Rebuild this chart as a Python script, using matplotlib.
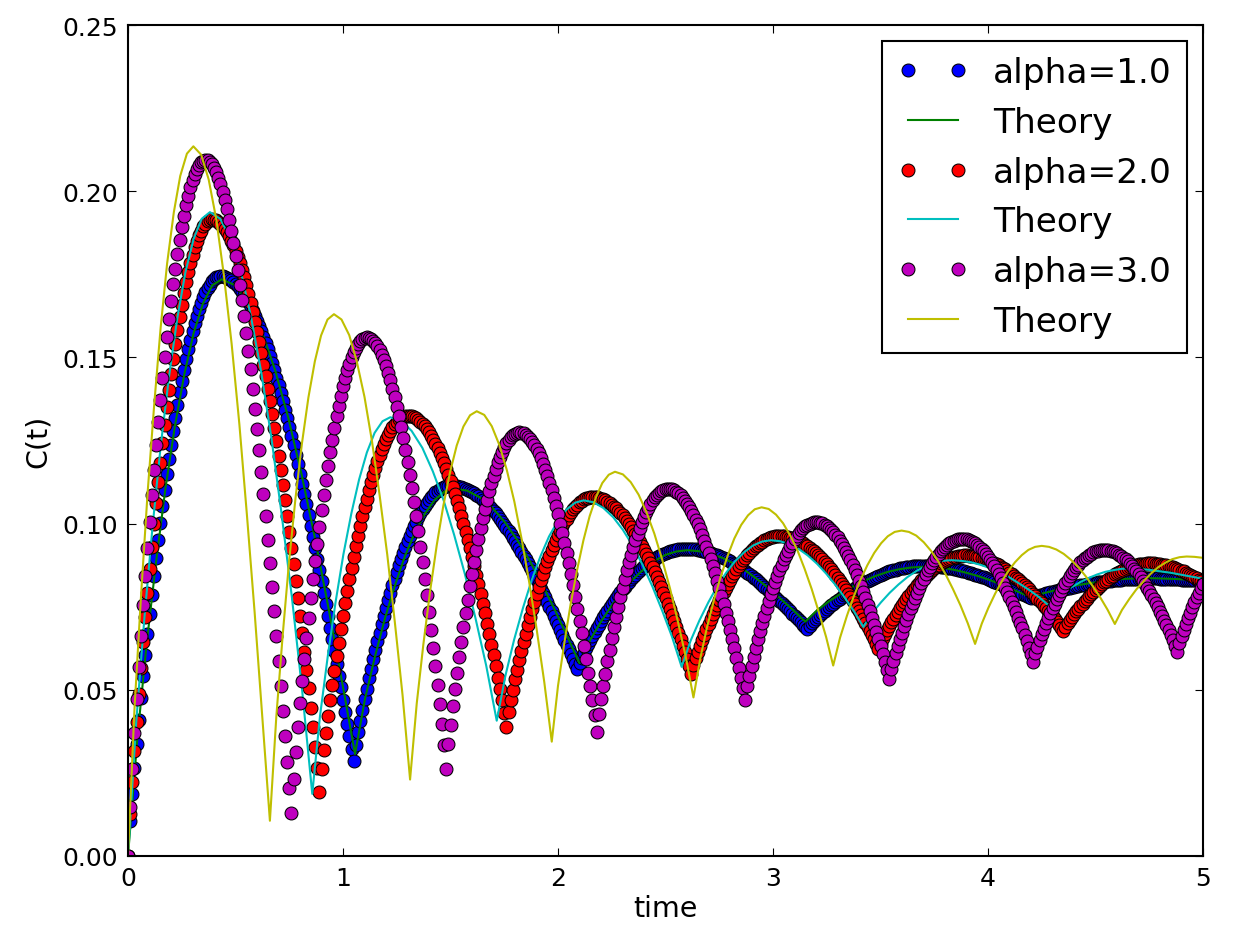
import numpy as np
import matplotlib
matplotlib.use("Agg")
import matplotlib.pyplot as plt
from matplotlib.lines import Line2D
from matplotlib.legend_handler import HandlerLine2D

# ---------------------------------------------------------------
# Simulated correlation C(t), sampled every 0.01 time units.
# Values are stored in units of 1e-4.
# ---------------------------------------------------------------
time = np.round(np.arange(501) * 0.01, 2)

c_alpha1 = [
    0, 105, 188, 264, 338, 408, 476, 541, 605, 667,
    727, 785, 841, 897, 950, 1002, 1052, 1101, 1148, 1193,
    1237, 1279, 1319, 1358, 1395, 1429, 1463, 1494, 1525, 1552,
    1579, 1603, 1626, 1646, 1665, 1681, 1696, 1709, 1719, 1729,
    1735, 1741, 1743, 1745, 1744, 1742, 1740, 1737, 1732, 1728,
    1721, 1714, 1707, 1698, 1688, 1678, 1666, 1653, 1640, 1626,
    1611, 1595, 1579, 1561, 1543, 1524, 1503, 1483, 1462, 1439,
    1416, 1393, 1368, 1343, 1318, 1291, 1263, 1236, 1207, 1178,
    1149, 1119, 1088, 1058, 1026, 994, 961, 928, 895, 861,
    827, 792, 758, 723, 687, 652, 616, 579, 543, 507,
    470, 434, 397, 360, 323, 286, 333, 372, 407, 440,
    473, 503, 534, 563, 592, 619, 646, 672, 697, 722,
    746, 769, 791, 814, 834, 855, 875, 894, 912, 930,
    947, 962, 978, 992, 1006, 1019, 1031, 1043, 1053, 1063,
    1072, 1080, 1087, 1094, 1099, 1104, 1108, 1111, 1113, 1114,
    1115, 1114, 1114, 1113, 1111, 1110, 1108, 1105, 1102, 1099,
    1095, 1091, 1087, 1082, 1077, 1071, 1065, 1059, 1053, 1046,
    1038, 1031, 1023, 1015, 1006, 997, 988, 978, 968, 958,
    948, 937, 926, 915, 904, 892, 880, 868, 856, 843,
    830, 818, 804, 791, 778, 764, 750, 736, 722, 708,
    694, 680, 665, 651, 636, 622, 607, 592, 578, 563,
    582, 597, 611, 625, 638, 650, 662, 674, 685, 696,
    707, 718, 728, 738, 748, 757, 767, 776, 785, 793,
    802, 810, 818, 825, 833, 840, 846, 853, 859, 865,
    871, 876, 882, 886, 891, 895, 899, 903, 907, 910,
    913, 915, 917, 919, 921, 922, 923, 924, 925, 925,
    925, 925, 924, 924, 923, 922, 920, 919, 918, 916,
    914, 912, 910, 907, 905, 902, 899, 896, 893, 889,
    886, 882, 878, 874, 870, 866, 861, 856, 852, 847,
    842, 837, 832, 826, 821, 815, 810, 804, 798, 792,
    786, 780, 774, 768, 762, 755, 749, 742, 736, 729,
    723, 716, 710, 703, 696, 690, 683, 693, 700, 707,
    713, 720, 726, 732, 737, 743, 749, 754, 759, 764,
    769, 774, 779, 784, 788, 793, 797, 801, 806, 810,
    813, 817, 821, 825, 828, 831, 834, 837, 840, 843,
    846, 849, 851, 853, 856, 858, 860, 861, 863, 865,
    866, 867, 869, 870, 870, 871, 872, 872, 873, 873,
    873, 873, 873, 873, 872, 872, 871, 871, 870, 869,
    868, 867, 866, 865, 864, 862, 861, 859, 858, 856,
    854, 852, 851, 849, 846, 844, 842, 840, 838, 835,
    833, 830, 828, 825, 822, 820, 817, 814, 811, 808,
    805, 802, 799, 796, 793, 790, 787, 784, 781, 778,
    775, 778, 780, 782, 784, 786, 788, 790, 792, 793,
    795, 797, 798, 800, 802, 803, 804, 806, 807, 809,
    810, 811, 813, 814, 815, 816, 817, 819, 820, 821,
    822, 823, 824, 825, 825, 826, 827, 828, 829, 829,
    830, 830, 831, 832, 832, 833, 833, 833, 834, 834,
    834, 834, 835, 835, 835, 835, 835, 835, 835, 835,
    834, 834, 834, 834, 833, 833, 833, 832, 832, 832,
    831, 831, 830, 830, 830, 829, 829, 829, 828, 828,
    828,
]

c_alpha2 = [
    0, 125, 223, 315, 404, 486, 567, 644, 720, 792,
    863, 931, 998, 1062, 1124, 1183, 1241, 1297, 1350, 1401,
    1450, 1496, 1540, 1582, 1622, 1659, 1694, 1726, 1756, 1783,
    1808, 1831, 1849, 1867, 1881, 1894, 1902, 1910, 1912, 1915,
    1914, 1912, 1908, 1902, 1895, 1886, 1876, 1865, 1851, 1837,
    1820, 1803, 1783, 1762, 1741, 1717, 1692, 1665, 1637, 1608,
    1577, 1546, 1513, 1478, 1443, 1406, 1368, 1329, 1288, 1247,
    1204, 1160, 1116, 1070, 1023, 975, 927, 877, 827, 776,
    723, 670, 615, 560, 505, 446, 388, 328, 265, 192,
    263, 320, 370, 421, 468, 514, 558, 601, 642, 683,
    721, 760, 796, 832, 866, 900, 932, 963, 993, 1022,
    1049, 1075, 1100, 1124, 1146, 1168, 1188, 1206, 1224, 1239,
    1255, 1267, 1280, 1290, 1299, 1307, 1314, 1318, 1322, 1324,
    1325, 1324, 1323, 1320, 1317, 1312, 1307, 1300, 1293, 1284,
    1275, 1264, 1253, 1240, 1227, 1213, 1198, 1182, 1165, 1147,
    1129, 1109, 1089, 1068, 1046, 1024, 1000, 976, 952, 926,
    900, 873, 846, 817, 789, 759, 730, 699, 668, 636,
    604, 571, 537, 503, 468, 431, 388, 432, 468, 499,
    531, 560, 589, 616, 643, 668, 694, 718, 742, 764,
    787, 808, 829, 848, 868, 886, 904, 920, 936, 951,
    966, 979, 992, 1004, 1015, 1025, 1035, 1043, 1051, 1057,
    1064, 1068, 1073, 1076, 1078, 1079, 1080, 1080, 1079, 1077,
    1075, 1073, 1070, 1066, 1062, 1057, 1051, 1046, 1039, 1032,
    1025, 1016, 1008, 999, 989, 979, 969, 958, 946, 934,
    922, 909, 896, 882, 868, 853, 839, 823, 808, 792,
    776, 759, 742, 725, 707, 689, 671, 652, 633, 613,
    593, 572, 548, 574, 595, 613, 632, 649, 666, 682,
    698, 713, 728, 742, 756, 769, 782, 795, 807, 819,
    830, 841, 852, 862, 872, 881, 889, 898, 905, 913,
    920, 926, 932, 937, 942, 946, 950, 954, 956, 959,
    960, 962, 962, 963, 963, 962, 961, 960, 958, 956,
    954, 951, 948, 945, 941, 937, 932, 928, 922, 917,
    911, 905, 899, 892, 885, 877, 870, 862, 854, 845,
    837, 828, 818, 809, 799, 789, 779, 768, 758, 747,
    736, 725, 713, 701, 690, 677, 665, 652, 639, 623,
    641, 655, 667, 680, 692, 703, 714, 725, 735, 745,
    755, 764, 773, 782, 791, 799, 807, 815, 822, 830,
    836, 843, 849, 855, 861, 866, 871, 875, 880, 884,
    887, 891, 894, 896, 899, 900, 902, 903, 904, 905,
    905, 904, 904, 903, 902, 900, 899, 897, 895, 893,
    890, 887, 884, 881, 878, 874, 870, 866, 862, 857,
    852, 848, 843, 837, 832, 826, 820, 814, 808, 802,
    795, 788, 781, 774, 767, 760, 753, 745, 737, 729,
    722, 713, 705, 696, 687, 677, 690, 700, 710, 719,
    727, 736, 744, 752, 759, 767, 774, 781, 787, 794,
    800, 806, 812, 818, 823, 828, 833, 838, 842, 847,
    850, 854, 858, 861, 864, 867, 869, 872, 873, 875,
    877, 878, 879, 879, 880, 880, 880, 880, 879, 878,
    878, 876, 875, 874, 872, 870, 868, 866, 864, 861,
    858, 856, 852, 849, 846, 842, 839, 835, 831, 826,
    822,
]

c_alpha3 = [
    0, 146, 262, 369, 472, 569, 663, 754, 841, 926,
    1006, 1086, 1161, 1235, 1306, 1373, 1438, 1500, 1561, 1616,
    1669, 1720, 1767, 1812, 1853, 1892, 1926, 1959, 1986, 2012,
    2033, 2052, 2067, 2078, 2087, 2092, 2095, 2093, 2089, 2081,
    2071, 2057, 2041, 2021, 1999, 1974, 1945, 1914, 1881, 1844,
    1805, 1764, 1719, 1673, 1624, 1573, 1519, 1464, 1406, 1346,
    1285, 1221, 1156, 1090, 1022, 952, 881, 809, 736, 663,
    588, 512, 436, 360, 283, 206, 129, 231, 312, 387,
    459, 527, 592, 656, 716, 776, 832, 887, 940, 990,
    1040, 1086, 1131, 1174, 1214, 1253, 1289, 1324, 1355, 1385,
    1413, 1438, 1461, 1481, 1500, 1515, 1529, 1540, 1548, 1555,
    1558, 1560, 1558, 1555, 1550, 1542, 1533, 1521, 1507, 1491,
    1473, 1453, 1431, 1406, 1380, 1352, 1323, 1291, 1258, 1222,
    1185, 1147, 1107, 1065, 1022, 977, 931, 883, 834, 784,
    733, 680, 626, 571, 514, 456, 396, 333, 262, 336,
    395, 450, 501, 551, 598, 644, 688, 730, 771, 811,
    849, 885, 920, 954, 986, 1017, 1045, 1072, 1098, 1122,
    1144, 1164, 1184, 1201, 1216, 1230, 1241, 1252, 1260, 1266,
    1271, 1273, 1275, 1274, 1272, 1268, 1262, 1255, 1246, 1236,
    1224, 1211, 1196, 1180, 1162, 1143, 1123, 1101, 1078, 1053,
    1028, 1000, 972, 943, 912, 881, 848, 814, 780, 744,
    708, 670, 632, 592, 552, 511, 468, 423, 372, 427,
    471, 511, 549, 586, 621, 655, 688, 719, 749, 778,
    806, 833, 859, 883, 907, 929, 950, 969, 987, 1004,
    1020, 1035, 1048, 1060, 1070, 1079, 1087, 1093, 1098, 1102,
    1104, 1105, 1104, 1103, 1100, 1096, 1091, 1085, 1078, 1069,
    1060, 1050, 1038, 1026, 1012, 998, 983, 966, 949, 931,
    912, 892, 871, 850, 828, 805, 781, 757, 732, 706,
    680, 653, 625, 597, 567, 537, 506, 470, 510, 542,
    572, 599, 626, 652, 677, 700, 723, 745, 767, 787,
    807, 825, 843, 860, 876, 892, 906, 919, 932, 943,
    954, 963, 972, 980, 986, 992, 996, 1000, 1003, 1004,
    1005, 1004, 1003, 1001, 997, 993, 988, 982, 975, 967,
    959, 949, 939, 928, 916, 903, 890, 875, 860, 845,
    828, 811, 793, 775, 756, 737, 717, 696, 675, 653,
    631, 608, 585, 560, 532, 563, 587, 610, 632, 653,
    672, 692, 710, 728, 745, 761, 777, 792, 807, 821,
    834, 847, 859, 870, 881, 891, 900, 909, 917, 924,
    930, 936, 941, 945, 949, 951, 953, 954, 955, 955,
    953, 951, 949, 945, 941, 936, 930, 924, 917, 909,
    900, 891, 881, 871, 859, 848, 836, 822, 807, 795,
    780, 765, 749, 733, 717, 700, 685, 665, 647, 627,
    608, 585, 610, 630, 649, 667, 684, 700, 715, 730,
    745, 759, 772, 785, 797, 809, 820, 831, 841, 851,
    859, 868, 876, 883, 890, 896, 901, 906, 910, 914,
    917, 919, 921, 921, 922, 922, 921, 919, 917, 914,
    911, 907, 903, 898, 892, 886, 879, 872, 864, 856,
    847, 838, 828, 818, 807, 796, 785, 773, 761, 748,
    735, 722, 708, 694, 679, 665, 649, 633, 615, 641,
    661, 680, 698, 715, 732, 748, 763, 778, 792, 805,
    818,
]

# ---------------------------------------------------------------
# Theoretical curves (time, C in units of 1e-4)
# ---------------------------------------------------------------
t_theory1 = [
    0, 0.044, 0.087, 0.131, 0.174, 0.218, 0.262, 0.305, 0.349, 0.392, 0.436,
    0.498, 0.560, 0.622, 0.684, 0.746, 0.808, 0.870, 0.932, 0.994, 1.056,
    1.102, 1.149, 1.195, 1.242, 1.288, 1.334, 1.381, 1.427, 1.474, 1.52,
    1.578, 1.636, 1.694, 1.752, 1.81, 1.868, 1.926, 1.984, 2.042, 2.10,
    2.15, 2.20, 2.25, 2.30, 2.35, 2.40, 2.45, 2.50, 2.55, 2.60,
    2.655, 2.71, 2.765, 2.82, 2.875, 2.93, 2.985, 3.04, 3.095, 3.15,
    3.205, 3.26, 3.315, 3.37, 3.425, 3.48, 3.535, 3.59, 3.645, 3.70,
    3.75, 3.80, 3.85, 3.90, 3.95, 4.00, 4.05, 4.10, 4.15, 4.20,
    4.255, 4.31, 4.365, 4.42, 4.475, 4.53, 4.585, 4.64, 4.695, 4.75,
    4.85, 4.95, 5.0,
]
c_theory1 = [
    0, 358, 640, 887, 1105, 1293, 1449, 1573, 1663, 1717, 1735,
    1717, 1665, 1579, 1462, 1317, 1146, 955, 748, 530, 307,
    472, 601, 715, 815, 902, 973, 1030, 1072, 1097, 1105,
    1099, 1079, 1048, 1005, 951, 889, 818, 742, 662, 580,
    650, 705, 754, 796, 833, 864, 888, 906, 916, 920,
    917, 909, 897, 879, 857, 831, 803, 771, 739, 705,
    739, 766, 789, 810, 828, 843, 855, 863, 868, 870,
    869, 866, 860, 852, 843, 832, 820, 806, 792, 778,
    790, 799, 808, 815, 821, 826, 831, 834, 835, 836,
    834, 831, 829,
]

t_theory2 = [
    0, 0.038, 0.076, 0.114, 0.152, 0.191, 0.229, 0.267, 0.305, 0.343, 0.381,
    0.429, 0.476, 0.524, 0.571, 0.619, 0.667, 0.714, 0.762, 0.809, 0.857,
    0.893, 0.930, 0.966, 1.002, 1.039, 1.075, 1.111, 1.147, 1.184, 1.22,
    1.27, 1.319, 1.369, 1.418, 1.468, 1.517, 1.567, 1.616, 1.666, 1.715,
    1.756, 1.796, 1.837, 1.877, 1.918, 1.958, 1.999, 2.039, 2.08, 2.12,
    2.166, 2.211, 2.257, 2.302, 2.348, 2.393, 2.439, 2.484, 2.53, 2.575,
    2.617, 2.658, 2.7, 2.741, 2.783, 2.824, 2.866, 2.907, 2.949, 2.99,
    3.033, 3.076, 3.119, 3.162, 3.205, 3.248, 3.291, 3.334, 3.377, 3.42,
    3.461, 3.502, 3.543, 3.584, 3.625, 3.666, 3.707, 3.748, 3.789, 3.83,
    3.875, 3.92, 3.965, 4.01, 4.055, 4.1, 4.145, 4.19, 4.235, 4.28,
    4.318, 4.356, 4.394, 4.432, 4.47, 4.508, 4.546, 4.584, 4.622, 4.66,
    4.75, 4.85, 4.95, 5.0,
]
c_theory2 = [
    0, 400, 714, 990, 1233, 1443, 1617, 1756, 1856, 1917, 1937,
    1917, 1858, 1760, 1626, 1458, 1258, 1031, 780, 505, 187,
    421, 605, 766, 908, 1031, 1133, 1214, 1273, 1308, 1320,
    1310, 1279, 1228, 1157, 1070, 966, 848, 716, 573, 407,
    544, 651, 746, 829, 901, 961, 1008, 1042, 1063, 1070,
    1064, 1047, 1019, 981, 933, 876, 811, 739, 660, 569,
    648, 709, 764, 812, 853, 887, 914, 934, 946, 950,
    947, 938, 924, 904, 879, 849, 815, 777, 736, 689,
    731, 763, 792, 817, 839, 857, 871, 882, 888, 890,
    888, 884, 876, 866, 853, 838, 820, 801, 780, 755,
    778, 796, 811, 825, 837, 847, 855, 860, 864, 865,
    861, 852, 840, 834,
]

t_theory3 = [
    0, 0.030, 0.061, 0.091, 0.122, 0.152, 0.182, 0.213, 0.243, 0.274, 0.304,
    0.340, 0.375, 0.411, 0.446, 0.482, 0.518, 0.553, 0.589, 0.624, 0.66,
    0.690, 0.720, 0.749, 0.779, 0.809, 0.839, 0.869, 0.898, 0.928, 0.958,
    0.993, 1.029, 1.064, 1.100, 1.135, 1.17, 1.206, 1.241, 1.277, 1.312,
    1.343, 1.374, 1.405, 1.436, 1.467, 1.498, 1.529, 1.56, 1.591, 1.622,
    1.657, 1.692, 1.727, 1.762, 1.797, 1.831, 1.866, 1.901, 1.936, 1.971,
    2.0, 2.03, 2.059, 2.089, 2.118, 2.147, 2.177, 2.206, 2.236, 2.265,
    2.302, 2.338, 2.375, 2.411, 2.448, 2.484, 2.521, 2.557, 2.594, 2.63,
    2.662, 2.693, 2.725, 2.757, 2.789, 2.82, 2.852, 2.884, 2.915, 2.947,
    2.98, 3.014, 3.047, 3.08, 3.114, 3.147, 3.18, 3.213, 3.247, 3.28,
    3.312, 3.344, 3.375, 3.407, 3.439, 3.471, 3.503, 3.534, 3.566, 3.598,
    3.632, 3.666, 3.701, 3.735, 3.769, 3.803, 3.837, 3.872, 3.906, 3.94,
    3.971, 4.002, 4.033, 4.064, 4.095, 4.126, 4.157, 4.188, 4.219, 4.25,
    4.284, 4.318, 4.352, 4.386, 4.42, 4.454, 4.488, 4.522, 4.556, 4.59,
    4.623, 4.657, 4.69, 4.724, 4.757, 4.79, 4.824, 4.857, 4.891, 4.924,
    4.96, 5.0,
]
c_theory3 = [
    0, 441, 787, 1091, 1359, 1591, 1783, 1936, 2046, 2113, 2135,
    2110, 2036, 1914, 1747, 1541, 1299, 1027, 733, 423, 106,
    421, 668, 885, 1076, 1241, 1379, 1488, 1566, 1614, 1630,
    1614, 1567, 1488, 1381, 1247, 1087, 906, 704, 484, 230,
    459, 638, 796, 935, 1055, 1155, 1235, 1292, 1326, 1338,
    1327, 1293, 1237, 1161, 1066, 953, 824, 681, 524, 344,
    512, 643, 759, 861, 949, 1022, 1080, 1122, 1147, 1156,
    1148, 1125, 1087, 1035, 970, 893, 805, 707, 600, 477,
    595, 688, 769, 841, 903, 955, 996, 1025, 1043, 1049,
    1044, 1027, 1001, 964, 919, 864, 803, 734, 659, 573,
    657, 723, 780, 831, 875, 912, 941, 962, 975, 979,
    975, 964, 944, 918, 886, 847, 803, 754, 700, 638,
    699, 747, 789, 826, 858, 884, 905, 921, 930, 933,
    930, 922, 909, 891, 869, 842, 811, 778, 741, 698,
    740, 773, 802, 827, 849, 868, 882, 893, 899, 901,
    900, 897,
]

labels = ["alpha=1.0", "Theory", "alpha=2.0", "Theory", "alpha=3.0", "Theory"]

SCALE = 1e-4

# ---------------------------------------------------------------
# Figure
# ---------------------------------------------------------------
plt.rcParams["font.family"] = ["DejaVu Sans"]

fig = plt.figure(figsize=(12.36, 9.28), dpi=100)
fig.patch.set_facecolor("white")
ax = fig.add_axes([128 / 1236, 71 / 928, 1075 / 1236, 831 / 928])

marker_kw = dict(linestyle="none", marker="o", markersize=9.3,
                 markeredgecolor="black", markeredgewidth=0.75)
line_kw = dict(linewidth=1.5)

series = [
    (time, c_alpha1, "data", (0.0, 0.0, 1.0)),
    (t_theory1, c_theory1, "line", (0.0, 0.5, 0.0)),
    (time, c_alpha2, "data", (1.0, 0.0, 0.0)),
    (t_theory2, c_theory2, "line", (0.0, 0.75, 0.75)),
    (time, c_alpha3, "data", (0.75, 0.0, 0.75)),
    (t_theory3, c_theory3, "line", (0.75, 0.75, 0.0)),
]

for (tt, cc, kind, col), lab in zip(series, labels):
    yy = np.asarray(cc, dtype=float) * SCALE
    if kind == "data":
        ax.plot(tt, yy, color=col, markerfacecolor=col, label=lab, **marker_kw)
    else:
        ax.plot(tt, yy, color=col, label=lab, **line_kw)

ax.set_xlim(0, 5)
ax.set_ylim(0, 0.25)
ax.set_xticks([0, 1, 2, 3, 4, 5])
ax.set_yticks([0.0, 0.05, 0.10, 0.15, 0.20, 0.25])
ax.yaxis.set_major_formatter(matplotlib.ticker.FormatStrFormatter("%.2f"))

ax.tick_params(direction="in", which="major", length=6, width=0.8,
               top=True, right=True, labelsize=18, pad=7)
for sp in ax.spines.values():
    sp.set_linewidth(1.5)

ax.set_xlabel("time", fontsize=20.5, labelpad=3)
ax.set_ylabel("C(t)", fontsize=20.5, labelpad=8)

# legend: two markers at the ends of each handle, old-style spacing
handler = HandlerLine2D(marker_pad=0.0, xpad=0.33)
leg = ax.legend(loc="upper right", numpoints=2, fontsize=24.75,
                handlelength=1.78, handletextpad=1.02, borderpad=0.43,
                labelspacing=0.49, borderaxespad=0.47, fancybox=False,
                framealpha=1.0, edgecolor="black",
                handler_map={Line2D: handler})
leg.get_frame().set_linewidth(1.5)

fig.savefig("out.png", dpi=100, facecolor="white")
